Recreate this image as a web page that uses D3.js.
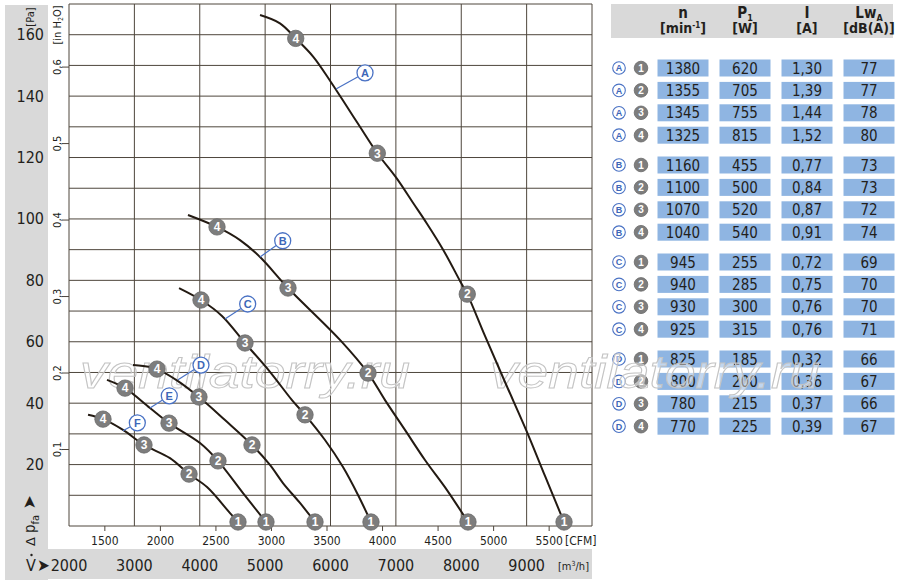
<!DOCTYPE html>
<html>
<head>
<meta charset="utf-8">
<style>
  body { margin: 0; background: #fff; }
  svg { display: block; }
  text { font-family: "Liberation Sans Narrow", "DejaVu Sans Condensed", "Arial Narrow", sans-serif; fill: #231f1c; }
  .grid line { stroke: #4e463c; stroke-width: 1; }
  .curve { fill: none; stroke: #231a12; stroke-width: 2; }
  .leader { stroke: #4a72c4; stroke-width: 1.2; }
  .lbl circle { fill: #fff; stroke: #4a72c4; stroke-width: 1.3; }
  .lbl text { fill: #3d67b8; font-weight: bold; font-family: "Liberation Sans", Arial, sans-serif; }
  .mark circle { fill: #7d7d7d; stroke: #6a6a6a; stroke-width: 0.8; }
  .mark text { fill: #fff; font-weight: bold; font-family: "Liberation Sans", Arial, sans-serif; }
  .cell { fill: #8fb5e2; }
  .wm { font-family: "Liberation Sans", Arial, sans-serif; font-style: italic; fill: #fff; fill-opacity: 0.45; stroke: #c4c4c4; stroke-width: 1; }
</style>
</head>
<body>
<script src="https://cdnjs.cloudflare.com/ajax/libs/d3/7.8.5/d3.min.js"></script>
<script>
  // axis ticks
  const pressureTicks = [20, 40, 60, 80, 100, 120, 140, 160];
  const inH2OTicks = [0.1, 0.2, 0.3, 0.4, 0.5, 0.6];
  const cfmTicks = [1500, 2000, 2500, 3000, 3500, 4000, 4500, 5000, 5500];
  const flowTicks = [2000, 3000, 4000, 5000, 6000, 7000, 8000, 9000];

  // characteristic curves [m3/h, Pa]
  const curveA = [[4922,166.4],[5227,163.7],[5468,158.8],[5737,152.8],[6003,144.7],[6248,136.7],[6451,130.0],[6716,121.4],[7013,113.2],[7267,105.1],[7471,98.6],[7725,89.9],[7981,79.8],[8092,75.5],[8363,61.9],[8669,46.9],[9006,30.6],[9281,16.3],[9572,1.3]];
  const curveB = [[3820,101.3],[4264,97.4],[4616,93.1],[4922,87.6],[5350,77.5],[6145,60.6],[6574,49.8],[6834,41.0],[7139,31.3],[7445,21.5],[7782,11.7],[8103,1.3]];
  const curveC = [[3683,77.5],[4019,73.6],[4340,68.4],[4692,59.6],[5074,50.2],[5411,41.0],[5610,36.2],[5916,28.0],[6191,19.2],[6421,10.1],[6619,1.3]];
  const curveD = [[2979,52.4],[3132,52.1],[3346,51.1],[3667,47.2],[3988,42.0],[4386,34.5],[4799,26.4],[5074,19.9],[5273,14.0],[5533,7.5],[5763,1.3]];
  const curveE = [[2581,47.6],[2857,44.9],[3239,38.4],[3530,33.5],[4004,27.0],[4279,21.2],[4662,10.7],[5013,1.3]];
  const curveF = [[2291,36.2],[2520,34.8],[2826,31.3],[3147,26.4],[3545,22.1],[3836,16.9],[4111,12.7],[4463,4.2],[4585,1.3]];

  // operating points 1..4 per curve
  const pointsA = [[9572,1.3],[8092,75.5],[6716,121.4],[5468,158.8]];
  const pointsB = [[8103,1.3],[6574,49.8],[5350,77.5],[4264,97.4]];
  const pointsC = [[6619,1.3],[5610,36.2],[4692,59.6],[4019,73.6]];
  const pointsD = [[5763,1.3],[4799,26.4],[3988,42.0],[3346,51.1]];
  const pointsE = [[5013,1.3],[4279,21.2],[3530,33.5],[2857,44.9]];
  const pointsF = [[4585,1.3],[3836,16.9],[3147,26.4],[2520,34.8]];

  // curve letter: label position and leader anchor on curve
  const curveNames = ['A', 'B', 'C', 'D', 'E', 'F'];
  const labelPos = [[6528,147.6],[5269,92.9],[4733,72.3],[4019,52.4],[3534,42.4],[3045,33.6]];
  const labelAnchor = [[6084,142.3],[4922,87.6],[4386,67.4],[3667,47.6],[3239,38.4],[2826,31.0]];

  // table
  const tableCurves = ['A', 'B', 'C', 'D'];
  const speeds = [[1380,1355,1345,1325],[1160,1100,1070,1040],[945,940,930,925],[825,800,780,770]];
  const power = [[620,705,755,815],[455,500,520,540],[255,285,300,315],[185,200,215,225]];
  const current = [[1.30,1.39,1.44,1.52],[0.77,0.84,0.87,0.91],[0.72,0.75,0.76,0.76],[0.32,0.36,0.37,0.39]];
  const sound = [[77,77,78,80],[73,73,72,74],[69,70,70,71],[66,67,66,67]];

  const W = 900, H = 585;
  const svg = d3.select('body').append('svg').attr('width', W).attr('height', H);

  const x = d3.scaleLinear().domain([2000, 10000]).range([69, 592]);
  const y = d3.scaleLinear().domain([0, 170]).range([526, 4]);
  const CFM = 1.699;   // m3/h per CFM
  const INH2O = 249.09; // Pa per inH2O

  // grey panels
  svg.append('rect').attr('x', 5).attr('y', 5).attr('width', 43).attr('height', 575).attr('fill', '#d9d9d9');
  svg.append('rect').attr('x', 5).attr('y', 549).attr('width', 587).attr('height', 30).attr('fill', '#d9d9d9');
  svg.append('rect').attr('x', 611).attr('y', 4).attr('width', 282).attr('height', 34).attr('fill', '#d9d9d9');

  // grid
  const grid = svg.append('g').attr('class', 'grid');
  grid.selectAll('.v').data(d3.range(2000, 10001, 1000)).join('line')
    .attr('x1', d => x(d)).attr('x2', d => x(d)).attr('y1', y(170)).attr('y2', y(0));
  grid.selectAll('.h').data(d3.range(0, 171, 10)).join('line')
    .attr('x1', x(2000)).attr('x2', x(10000)).attr('y1', d => y(d)).attr('y2', d => y(d));
  grid.selectAll('.ti').data(inH2OTicks).join('line')
    .attr('x1', x(2000) - 7).attr('x2', x(2000)).attr('y1', d => y(d * INH2O)).attr('y2', d => y(d * INH2O));
  grid.selectAll('.tc').data(cfmTicks).join('line')
    .attr('x1', d => x(d * CFM)).attr('x2', d => x(d * CFM)).attr('y1', y(0)).attr('y2', y(0) + 5);

  // Pa axis
  svg.append('g').selectAll('text').data(pressureTicks).join('text')
    .attr('x', 44).attr('y', d => y(d) + 5.5).attr('text-anchor', 'end')
    .attr('font-size', 16).text(d => d);
  svg.append('text').attr('transform', 'translate(34,17) rotate(-90)')
    .attr('text-anchor', 'middle').attr('font-size', 11).text('[Pa]');

  // inH2O axis
  svg.append('g').selectAll('text').data(inH2OTicks).join('text')
    .attr('transform', d => `translate(61,${y(d * INH2O)}) rotate(-90)`)
    .attr('text-anchor', 'middle').attr('font-size', 11)
    .text(d => d3.format('.1f')(d).replace('.', ','));
  const inLbl = svg.append('text').attr('transform', 'translate(61,25) rotate(-90)')
    .attr('text-anchor', 'middle').attr('font-size', 11);
  inLbl.append('tspan').text('[in H');
  inLbl.append('tspan').attr('font-size', 7).attr('dy', 2).text('2');
  inLbl.append('tspan').attr('dy', -2).text('O]');

  // Δ p_fa label
  const dp = svg.append('text').attr('transform', 'translate(35,546) rotate(-90)').attr('font-size', 15);
  dp.append('tspan').attr('font-family', 'DejaVu Sans').attr('font-size', 13).text('\u0394 ');
  dp.append('tspan').text('p');
  dp.append('tspan').attr('font-size', 11).attr('dy', 4).text('fa');
  dp.append('tspan').attr('dy', -4).attr('font-family', 'DejaVu Sans').attr('font-size', 17).text(' \u27A4');

  // CFM axis
  svg.append('g').selectAll('text').data(cfmTicks).join('text')
    .attr('x', d => x(d * CFM)).attr('y', 545).attr('text-anchor', 'middle')
    .attr('font-size', 12).text(d => d);
  svg.append('text').attr('x', 565).attr('y', 545).attr('font-size', 12).text('[CFM]');

  // m3/h axis
  svg.append('g').selectAll('text').data(flowTicks).join('text')
    .attr('x', d => x(d)).attr('y', 571).attr('text-anchor', 'middle')
    .attr('font-size', 16).text(d => d);
  const mLbl = svg.append('text').attr('x', 558).attr('y', 570).attr('font-size', 11);
  mLbl.append('tspan').text('[m');
  mLbl.append('tspan').attr('font-size', 7).attr('dy', -4).text('3');
  mLbl.append('tspan').attr('dy', 4).text('/h]');
  svg.append('text').attr('x', 26).attr('y', 571).attr('font-size', 16).text('V');
  svg.append('circle').attr('cx', 31.5).attr('cy', 555).attr('r', 1.2).attr('fill', '#231f1c');
  svg.append('text').attr('x', 37).attr('y', 571).attr('font-family', 'DejaVu Sans').attr('font-size', 17).text('\u27A4');

  // table
  const colX = [683, 745, 807, 869];
  const rowY = (g, r) => 68 + g * 97 + r * 22.4;
  const head = svg.append('g').attr('font-weight', 'bold').attr('text-anchor', 'middle');
  head.append('text').attr('x', colX[0]).attr('y', 17.5).attr('font-size', 15).attr('font-weight', 'bold').text('n');
  const h1 = head.append('text').attr('x', colX[0]).attr('y', 33).attr('font-size', 14).attr('font-weight', 'bold');
  h1.append('tspan').text('[min');
  h1.append('tspan').attr('font-size', 8).attr('dy', -5).text('-1');
  h1.append('tspan').attr('dy', 5).text(']');
  const h2 = head.append('text').attr('x', colX[1]).attr('y', 17.5).attr('font-size', 15).attr('font-weight', 'bold');
  h2.append('tspan').text('P');
  h2.append('tspan').attr('font-size', 9).attr('dy', 3).text('1');
  head.append('text').attr('x', colX[1]).attr('y', 33).attr('font-size', 14).attr('font-weight', 'bold').text('[W]');
  head.append('text').attr('x', colX[2]).attr('y', 17.5).attr('font-size', 15).attr('font-weight', 'bold').text('I');
  head.append('text').attr('x', colX[2]).attr('y', 33).attr('font-size', 14).attr('font-weight', 'bold').text('[A]');
  const h4 = head.append('text').attr('x', colX[3]).attr('y', 17.5).attr('font-size', 15).attr('font-weight', 'bold');
  h4.append('tspan').text('Lw');
  h4.append('tspan').attr('font-size', 9).attr('dy', 3).text('A');
  head.append('text').attr('x', colX[3]).attr('y', 33).attr('font-size', 14).attr('font-weight', 'bold').text('[dB(A)]');

  const fmtI = d => d3.format('.2f')(d).replace('.', ',');
  const rows = [];
  tableCurves.forEach((c, g) => {
    for (let r = 0; r < 4; ++r) {
      rows.push({c, g, r, vals: [speeds[g][r], power[g][r], fmtI(current[g][r]), sound[g][r]]});
    }
  });
  const tbl = svg.append('g');
  const row = tbl.selectAll('g').data(rows).join('g')
    .attr('transform', d => `translate(0,${rowY(d.g, d.r)})`);
  row.selectAll('rect').data(d => d.vals).join('rect').attr('class', 'cell')
    .attr('x', (d, i) => colX[i] - 25.5).attr('y', -8.5).attr('width', 51).attr('height', 17);
  row.selectAll('text.v').data(d => d.vals).join('text').attr('class', 'v')
    .attr('x', (d, i) => colX[i]).attr('y', 5.5).attr('text-anchor', 'middle')
    .attr('font-size', 15).text(d => d);
  const rl = row.append('g').attr('class', 'lbl');
  rl.append('circle').attr('cx', 619).attr('cy', 0).attr('r', 6.3).style('stroke-width', 1.1);
  rl.append('text').attr('x', 619).attr('y', 3.3).attr('text-anchor', 'middle').attr('font-size', 9).text(d => d.c);
  const rm = row.append('g').attr('class', 'mark');
  rm.append('circle').attr('cx', 641).attr('cy', 0).attr('r', 6.8);
  rm.append('text').attr('x', 641).attr('y', 3.5).attr('text-anchor', 'middle').attr('font-size', 10).text(d => d.r + 1);

  // watermark
  svg.append('text').attr('class', 'wm').attr('x', 80).attr('y', 388).attr('font-size', 47)
    .attr('textLength', 330).attr('lengthAdjust', 'spacingAndGlyphs').text('ventilatorry.ru');
  svg.append('text').attr('class', 'wm').attr('x', 490).attr('y', 388).attr('font-size', 47)
    .attr('textLength', 330).attr('lengthAdjust', 'spacingAndGlyphs').text('ventilatorry.ru');

  // curves
  const line = d3.line().x(d => x(d[0])).y(d => y(d[1])).curve(d3.curveCatmullRom);
  const curves = [curveA, curveB, curveC, curveD, curveE, curveF];
  const points = [pointsA, pointsB, pointsC, pointsD, pointsE, pointsF];
  svg.append('g').selectAll('path').data(curves).join('path').attr('class', 'curve').attr('d', line);

  // leaders + letter labels
  const lab = svg.append('g');
  curveNames.forEach((n, i) => {
    const [lx, ly] = [x(labelPos[i][0]), y(labelPos[i][1])];
    const [ax, ay] = [x(labelAnchor[i][0]), y(labelAnchor[i][1])];
    const a = Math.atan2(ay - ly, ax - lx);
    lab.append('line').attr('class', 'leader')
      .attr('x1', ax).attr('y1', ay)
      .attr('x2', lx + 8 * Math.cos(a)).attr('y2', ly + 8 * Math.sin(a));
    const gl = lab.append('g').attr('class', 'lbl');
    gl.append('circle').attr('cx', lx).attr('cy', ly).attr('r', 8);
    gl.append('text').attr('x', lx).attr('y', ly + 4).attr('text-anchor', 'middle').attr('font-size', 11).text(n);
  });

  // operating point markers
  const mk = svg.append('g');
  points.forEach(pts => {
    pts.forEach((p, i) => {
      const gm = mk.append('g').attr('class', 'mark');
      gm.append('circle').attr('cx', x(p[0])).attr('cy', y(p[1])).attr('r', 8.2);
      gm.append('text').attr('x', x(p[0])).attr('y', y(p[1]) + 4.3)
        .attr('text-anchor', 'middle').attr('font-size', 12).text(i + 1);
    });
  });
</script>
</body>
</html>
